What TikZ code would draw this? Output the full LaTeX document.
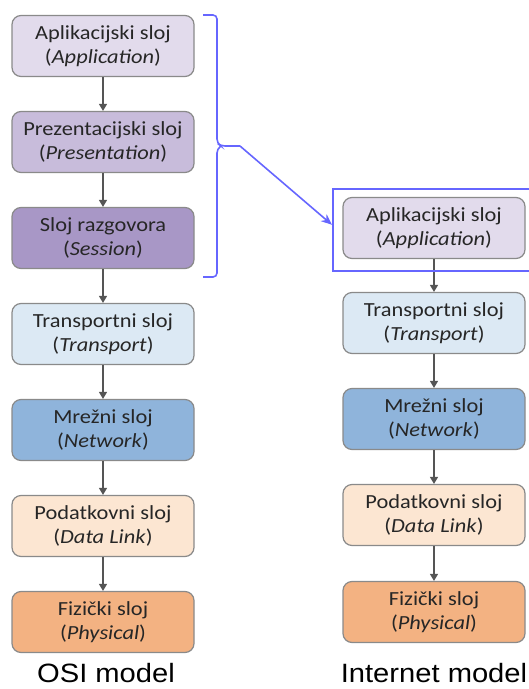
\documentclass[tikz,border=0pt]{standalone}
\usepackage{fontspec}
\setmainfont{Carlito}[FakeStretch=1.12]
\newfontfamily\labelfont{Liberation Sans}[FakeStretch=1.1]
\usetikzlibrary{arrows.meta,positioning}
\definecolor{cApp}{HTML}{E2DBEC}
\definecolor{cPres}{HTML}{C8BCDB}
\definecolor{cSess}{HTML}{A897C6}
\definecolor{cTrans}{HTML}{DCE9F4}
\definecolor{cNet}{HTML}{8FB4DB}
\definecolor{cData}{HTML}{FCE6D2}
\definecolor{cPhys}{HTML}{F3B282}
\definecolor{cBorder}{HTML}{8A8A8A}
\definecolor{cArrow}{HTML}{555555}
\definecolor{cBlue}{HTML}{6666FF}
\definecolor{cText}{HTML}{262626}
\tikzset{
  layer/.style={draw=cBorder, line width=1.2pt, rounded corners=9pt,
    minimum width=182pt, minimum height=61pt, align=center,
    font=\fontsize{20}{24}\selectfont, text=cText, inner sep=0pt},
  flow/.style={draw=cArrow, line width=1.2pt, -{Triangle[length=7pt,width=8pt]}},
  grouparrow/.style={draw=cBlue, line width=1.6pt, -{Stealth[length=11pt,width=9pt]}},
  bracket/.style={draw=cBlue, line width=1.6pt, rounded corners=4pt},
  modellabel/.style={font=\labelfont\fontsize{26.5}{30}\selectfont, anchor=base,
    text=black, inner sep=0pt}
}
\begin{document}
\begin{tikzpicture}[x=1pt,y=-1pt]
\useasboundingbox (0,0) rectangle (529,689);
\clip (0,0) rectangle (529,689);
% OSI column
\node[layer, fill=cApp]   (o1) at (103,46)  {Aplikacijski sloj\\(\textit{Application})};
\node[layer, fill=cPres]  (o2) at (103,142) {Prezentacijski sloj\\(\textit{Presentation})};
\node[layer, fill=cSess]  (o3) at (103,238) {Sloj razgovora\\(\textit{Session})};
\node[layer, fill=cTrans] (o4) at (103,334) {Transportni sloj\\(\textit{Transport})};
\node[layer, fill=cNet]   (o5) at (103,430) {Mrežni sloj\\(\textit{Network})};
\node[layer, fill=cData]  (o6) at (103,526) {Podatkovni sloj\\(\textit{Data Link})};
\node[layer, fill=cPhys]  (o7) at (103,622) {Fizički sloj\\(\textit{Physical})};
\foreach \a/\b in {o1/o2,o2/o3,o3/o4,o4/o5,o5/o6,o6/o7}
  \draw[flow] (\a) -- (\b);
% Internet column
\node[layer, fill=cApp]   (i1) at (434,228) {Aplikacijski sloj\\(\textit{Application})};
\node[layer, fill=cTrans] (i2) at (434,323) {Transportni sloj\\(\textit{Transport})};
\node[layer, fill=cNet]   (i3) at (434,419) {Mrežni sloj\\(\textit{Network})};
\node[layer, fill=cData]  (i4) at (434,515) {Podatkovni sloj\\(\textit{Data Link})};
\node[layer, fill=cPhys]  (i5) at (434,612) {Fizički sloj\\(\textit{Physical})};
\foreach \a/\b in {i1/i2,i2/i3,i3/i4,i4/i5}
  \draw[flow] (\a) -- (\b);
% group box
\node[draw=cBlue, line width=1.6pt, minimum width=210pt, minimum height=82pt,
      anchor=north west, inner sep=0pt] (grp) at (332,188) {};
% bracket
\coordinate (bt) at (203,15);
\coordinate (bb) at (203,277);
\coordinate (bo) at (240,146);
\draw[bracket] (bt) -- (217,15) -- (217,143) -- (221,146) -- (bo);
\draw[bracket] (bb) -- (217,277) -- (217,149) -- (221,146);
\draw[grouparrow] (bo) -- ([yshift=5pt]grp.west);
% labels
\node[modellabel] (osi) at (106,682) {OSI model};
\node[modellabel] (inet) at (434,682) {Internet model};
\end{tikzpicture}
\end{document}
